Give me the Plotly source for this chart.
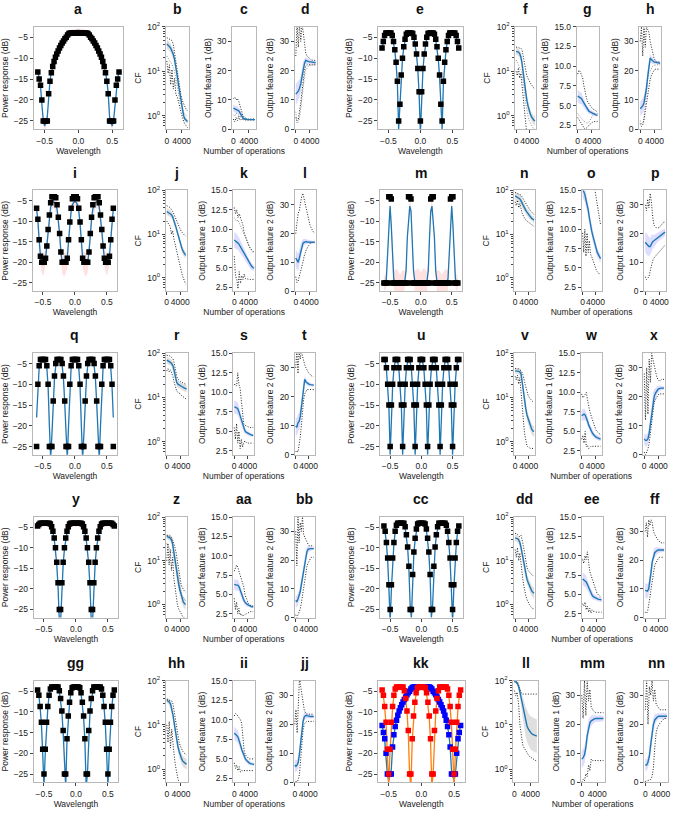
import plotly.graph_objects as go

W, H = 677, 814

# ---------------- wavelength grid and spectral data ----------------
WL = [-0.6, -0.58, -0.56, -0.54, -0.52, -0.5, -0.48, -0.46, -0.44, -0.42, -0.4, -0.38, -0.36, -0.34, -0.32,
      -0.3, -0.28, -0.26, -0.24, -0.22, -0.2, -0.18, -0.16, -0.14, -0.12, -0.1, -0.08, -0.06, -0.04, -0.02,
      0.0, 0.02, 0.04, 0.06, 0.08, 0.1, 0.12, 0.14, 0.16, 0.18, 0.2, 0.22, 0.24, 0.26, 0.28, 0.3, 0.32,
      0.34, 0.36, 0.38, 0.4, 0.42, 0.44, 0.46, 0.48, 0.5, 0.52, 0.54, 0.56, 0.58, 0.6]

T_A = [-13.3, -15.0, -16.5, -20, -25, -25, -25, -25, -18.5, -15.5, -13.5, -12.0, -10.8, -9.8, -9.0, -8.3, -7.6, -7.0, -6.4, -5.9, -5.4, -5.0, -4.5, -4.1, -4, -4, -4, -4, -4, -4, -4,
       -4, -4, -4, -4, -4, -4, -4.1, -4.5, -5.0, -5.4, -5.9, -6.4, -7.0, -7.6, -8.3, -9.0, -9.8, -10.8, -12.0, -13.5, -15.5, -18.5, -25, -25, -25, -25, -20, -16.5, -15.0, -13.3]
R_A = [-13.1, -14.8, -16.6, -21, -24.8, -26.2, -25.5, -24, -18.3, -15.3, -13.4, -11.9, -10.7, -9.7, -8.9, -8.2, -7.5, -6.9, -6.3, -5.8, -5.3, -4.9, -4.5, -4.1, -3.9, -3.7, -3.6, -3.5, -3.4, -3.4, -3.4,
       -3.4, -3.4, -3.5, -3.6, -3.7, -3.9, -4.1, -4.5, -4.9, -5.3, -5.8, -6.3, -6.9, -7.5, -8.2, -8.9, -9.7, -10.7, -11.9, -13.4, -15.3, -18.3, -24, -25.5, -26.2, -24.8, -21, -16.6, -14.8, -13.1]
S_A = [0.5, 0.5, 0.6, 0.8, 1, 1.2, 1, 0.8, 0.6, 0.5, 0.4, 0.4, 0.4, 0.4, 0.4, 0.4, 0.4, 0.4, 0.4, 0.4, 0.4, 0.4, 0.4, 0.5, 0.5, 0.5, 0.5, 0.5, 0.5, 0.5, 0.5,
       0.5, 0.5, 0.5, 0.5, 0.5, 0.5, 0.5, 0.4, 0.4, 0.4, 0.4, 0.4, 0.4, 0.4, 0.4, 0.4, 0.4, 0.4, 0.4, 0.4, 0.5, 0.6, 0.8, 1, 1.2, 1, 0.8, 0.6, 0.5, 0.5]

T_E = [-7.6, -6.0, -4.6, -4, -4, -4, -4, -4, -4.6, -6.0, -8.0, -11.0, -15.5, -25, -21, -14, -10, -7.3, -5.5, -4.3, -4, -4, -4, -4, -4.1, -5.0, -6.6, -9.0, -12.5, -18, -25,
       -18, -12.5, -9.0, -6.6, -5.0, -4.1, -4, -4, -4, -4, -4.3, -5.5, -7.3, -10, -14, -21, -25, -15.5, -11.0, -8.0, -6.0, -4.6, -4, -4, -4, -4, -4, -4.6, -6.0, -7.6]
R_E = [-7.8, -6.2, -4.8, -4.2, -4.1, -4.1, -4.1, -4.2, -4.8, -6.2, -8.2, -11.3, -16, -27, -21.5, -14.3, -10.2, -7.5, -5.7, -4.5, -4.2, -4.1, -4.1, -4.2, -4.3, -5.2, -6.8, -9.2, -12.8, -18.5, -28,
       -18.5, -12.8, -9.2, -6.8, -5.2, -4.3, -4.2, -4.1, -4.1, -4.2, -4.5, -5.7, -7.5, -10.2, -14.3, -21.5, -27, -16, -11.3, -8.2, -6.2, -4.8, -4.2, -4.1, -4.1, -4.1, -4.2, -4.8, -6.2, -7.8]
S_E = [0.6, 0.6, 0.6, 0.6, 0.6, 0.6, 0.6, 0.6, 0.6, 0.7, 0.8, 1, 1.2, 1.5, 1.2, 1, 0.8, 0.7, 0.6, 0.6, 0.6, 0.6, 0.6, 0.6, 0.6, 0.7, 0.8, 1, 1.2, 1.4, 1.5,
       1.4, 1.2, 1, 0.8, 0.7, 0.6, 0.6, 0.6, 0.6, 0.6, 0.6, 0.6, 0.7, 0.8, 1, 1.2, 1.5, 1.2, 1, 0.8, 0.7, 0.6, 0.6, 0.6, 0.6, 0.6, 0.6, 0.6, 0.6, 0.6]

T_I = [-6.8, -9.5, -14.5, -18.5, -20, -20, -20, -19, -16, -12, -8.5, -5.5, -4, -4, -4, -4.3, -6, -9, -13, -17.5, -20, -20, -20, -20, -19, -14.5, -10.2, -6.8, -4.5, -4, -4,
       -4, -4.5, -6.8, -10.2, -14.5, -19, -20, -20, -20, -20, -17.5, -13, -9, -6, -4.3, -4, -4, -4, -5.5, -8.5, -12, -16, -19, -20, -20, -20, -18.5, -14.5, -9.5, -6.8]
R_I = [-7, -9.8, -14.5, -18.5, -20, -20.5, -20, -19, -16, -12.3, -9, -6.5, -5.6, -5.3, -5.4, -5.9, -7, -9.5, -13, -17.5, -20, -20.5, -20.5, -20, -19, -14.8, -10.5, -7.5, -6, -5.4, -5.2,
       -5.4, -6, -7.5, -10.5, -14.8, -19, -20, -20.5, -20.5, -20, -17.5, -13, -9.5, -7, -5.9, -5.4, -5.3, -5.6, -6.5, -9, -12.3, -16, -19, -20, -20.5, -20, -18.5, -14.5, -9.8, -7]
S_I = [1.5, 1.8, 2, 2.2, 2.5, 2.8, 2.5, 2.2, 2, 2, 2, 1.8, 1.5, 1.5, 1.5, 1.8, 2, 2, 2, 2.2, 2.5, 2.8, 2.8, 2.5, 2.2, 2, 2, 1.8, 1.5, 1.5, 1.5,
       1.5, 1.5, 1.8, 2, 2, 2.2, 2.5, 2.8, 2.8, 2.5, 2.2, 2, 2, 2, 1.8, 1.5, 1.5, 1.5, 1.8, 2, 2, 2, 2.2, 2.5, 2.8, 2.5, 2.2, 2, 1.8, 1.5]

T_M = [-25, -25, -25, -25, -4, -4, -4.6, -25, -25, -25, -25, -25, -25, -25, -25, -25, -25, -25, -25, -25, -4, -4, -4.6, -25, -25, -25, -25, -25, -25, -25, -25,
       -25, -25, -25, -25, -25, -25, -25, -4.6, -4, -4, -25, -25, -25, -25, -25, -25, -25, -25, -25, -25, -25, -25, -25, -4.6, -4, -4, -25, -25, -25, -25]
R_M = [-25, -25, -24, -18, -11, -6.3, -11, -18, -24, -25, -25, -24.8, -25, -25, -25, -25, -25, -24.5, -22, -14, -9.5, -6.3, -7.5, -14, -22, -24.5, -25, -25, -25, -25, -25,
       -25, -25, -25, -25, -24.5, -22, -14, -7.5, -6.3, -9.5, -14, -22, -24.5, -25, -25, -25, -25, -25, -24.8, -25, -25, -24, -18, -11, -6.3, -11, -18, -24, -25, -25]
S_M = [1.5, 2, 2, 2, 1.5, 1.5, 1.5, 2, 2.5, 3, 3.5, 3, 2.5, 2, 2.5, 3, 3, 2.5, 2, 1.5, 1.5, 1.5, 1.5, 1.5, 2, 2.5, 3, 3.5, 3.5, 3, 2.5,
       3, 3.5, 3.5, 3, 2.5, 2, 1.5, 1.5, 1.5, 1.5, 1.5, 2, 2.5, 3, 3, 2.5, 2, 2.5, 3, 3.5, 3, 2.5, 2, 1.5, 1.5, 1.5, 2, 2, 2, 1.5]

T_Q = [-25, -10, -5.5, -4, -4, -4, -4, -4, -5.5, -10, -25, -25, -25, -14, -8, -5, -4, -4, -4, -4, -5, -8, -14, -25, -25, -25, -10, -5.5, -4, -4, -4,
       -4, -4, -5.5, -10, -25, -25, -25, -14, -8, -5, -4, -4, -4, -4, -5, -8, -14, -25, -25, -25, -10, -5.5, -4, -4, -4, -4, -4, -5.5, -10, -25]
R_Q = [-18, -10.5, -6, -4.8, -4.5, -4.4, -4.5, -4.8, -6, -10.5, -20, -28, -22, -14.5, -8.5, -5.5, -4.7, -4.4, -4.4, -4.7, -5.5, -8.5, -14.5, -22, -28, -20, -10.5, -6, -4.8, -4.5, -4.4,
       -4.5, -4.8, -6, -10.5, -20, -28, -22, -14.5, -8.5, -5.5, -4.7, -4.4, -4.4, -4.7, -5.5, -8.5, -14.5, -22, -28, -20, -10.5, -6, -4.8, -4.5, -4.4, -4.5, -4.8, -6, -10.5, -18]
S_Q = [1.5, 1, 0.8, 0.5, 0.5, 0.5, 0.5, 0.5, 0.8, 1, 1.2, 1.5, 1.5, 1, 0.8, 0.6, 0.5, 0.5, 0.5, 0.5, 0.6, 0.8, 1, 1.5, 1.5, 1.2, 1, 0.8, 0.5, 0.5, 0.5,
       0.5, 0.5, 0.8, 1, 1.2, 1.5, 1.5, 1, 0.8, 0.6, 0.5, 0.5, 0.5, 0.5, 0.6, 0.8, 1, 1.5, 1.5, 1.2, 1, 0.8, 0.5, 0.5, 0.5, 0.5, 0.5, 0.8, 1, 1.5]

T_U = [-4, -4, -6, -10, -15, -25, -15, -10, -6, -4, -4, -4, -6, -10, -15, -25, -15, -10, -6, -4, -4, -4, -6, -10, -15, -25, -15, -10, -6, -4, -4,
       -4, -6, -10, -15, -25, -15, -10, -6, -4, -4, -4, -6, -10, -15, -25, -15, -10, -6, -4, -4, -4, -6, -10, -15, -25, -15, -10, -6, -4, -4]
R_U = [-4.3, -4.5, -6.3, -10.3, -15.5, -27, -15.5, -10.3, -6.3, -4.5, -4.3, -4.5, -6.3, -10.3, -15.5, -27, -15.5, -10.3, -6.3, -4.5, -4.3, -4.5, -6.3, -10.3, -15.5, -27, -15.5, -10.3, -6.3, -4.5, -4.3,
       -4.5, -6.3, -10.3, -15.5, -27, -15.5, -10.3, -6.3, -4.5, -4.3, -4.5, -6.3, -10.3, -15.5, -27, -15.5, -10.3, -6.3, -4.5, -4.3, -4.5, -6.3, -10.3, -15.5, -27, -15.5, -10.3, -6.3, -4.5, -4.3]
S_U = [0.6, 0.6, 0.7, 0.8, 1, 1.2, 1, 0.8, 0.7, 0.6, 0.6, 0.6, 0.7, 0.8, 1, 1.2, 1, 0.8, 0.7, 0.6, 0.6, 0.6, 0.7, 0.8, 1, 1.2, 1, 0.8, 0.7, 0.6, 0.6,
       0.6, 0.7, 0.8, 1, 1.2, 1, 0.8, 0.7, 0.6, 0.6, 0.6, 0.7, 0.8, 1, 1.2, 1, 0.8, 0.7, 0.6, 0.6, 0.6, 0.7, 0.8, 1, 1.2, 1, 0.8, 0.7, 0.6, 0.6]

T_Y = [-4.7, -4.3, -4, -4, -4, -4, -4, -4, -4, -4, -4.2, -4.9, -6, -7.6, -10, -13.5, -18.5, -25, -25, -18.5, -13.5, -10, -7.6, -6, -4.9, -4.2, -4, -4, -4, -4, -4,
       -4, -4, -4, -4, -4.2, -4.9, -6, -7.6, -10, -13.5, -18.5, -25, -25, -18.5, -13.5, -10, -7.6, -6, -4.9, -4.2, -4, -4, -4, -4, -4, -4, -4, -4, -4.3, -4.7]
R_Y = [-4.8, -4.4, -4.2, -4.1, -4.1, -4.1, -4.1, -4.1, -4.1, -4.2, -4.4, -5.1, -6.2, -7.8, -10.3, -14, -19.5, -28, -28, -19.5, -14, -10.3, -7.8, -6.2, -5.1, -4.4, -4.2, -4.1, -4.1, -4.1, -4.1,
       -4.1, -4.1, -4.1, -4.2, -4.4, -5.1, -6.2, -7.8, -10.3, -14, -19.5, -28, -28, -19.5, -14, -10.3, -7.8, -6.2, -5.1, -4.4, -4.2, -4.1, -4.1, -4.1, -4.1, -4.1, -4.1, -4.2, -4.4, -4.8]
S_Y = [0.7, 0.7, 0.7, 0.7, 0.7, 0.7, 0.7, 0.7, 0.7, 0.7, 0.7, 0.8, 0.9, 1, 1.1, 1.2, 1.4, 1.5, 1.5, 1.4, 1.2, 1.1, 1, 0.9, 0.8, 0.7, 0.7, 0.7, 0.7, 0.7, 0.7,
       0.7, 0.7, 0.7, 0.7, 0.7, 0.8, 0.9, 1, 1.1, 1.2, 1.4, 1.5, 1.5, 1.4, 1.2, 1.1, 1, 0.9, 0.8, 0.7, 0.7, 0.7, 0.7, 0.7, 0.7, 0.7, 0.7, 0.7, 0.7, 0.7]

T_CC = [-4.7, -6, -8.7, -12.5, -19, -25, -19, -12.5, -8.7, -6, -4.5, -4, -4, -4, -4, -4, -4, -4.9, -6.8, -9.8, -14.5, -25, -25, -16.5, -11, -7.7, -5.4, -4.2, -4, -4, -4,
        -4, -4, -4.2, -5.4, -7.7, -11, -16.5, -25, -25, -14.5, -9.8, -6.8, -4.9, -4, -4, -4, -4, -4, -4, -4.5, -6, -8.7, -12.5, -19, -25, -19, -12.5, -8.7, -6, -4.7]
R_CC = [-4.9, -6.2, -9, -13, -20, -28, -20, -13, -9, -6.2, -4.7, -4.2, -4.1, -4.1, -4.1, -4.1, -4.2, -5.1, -7, -10, -15, -24, -27, -17, -11.3, -8, -5.6, -4.4, -4.2, -4.1, -4.1,
        -4.1, -4.2, -4.4, -5.6, -8, -11.3, -17, -27, -24, -15, -10, -7, -5.1, -4.2, -4.1, -4.1, -4.1, -4.1, -4.2, -4.7, -6.2, -9, -13, -20, -28, -20, -13, -9, -6.2, -4.9]
S_CC = [0.7, 0.8, 1, 1.2, 1.4, 1.5, 1.4, 1.2, 1, 0.8, 0.7, 0.6, 0.6, 0.6, 0.6, 0.6, 0.6, 0.7, 0.8, 1, 1.2, 1.5, 1.5, 1.2, 1, 0.8, 0.7, 0.6, 0.6, 0.6, 0.6,
        0.6, 0.6, 0.6, 0.7, 0.8, 1, 1.2, 1.5, 1.5, 1.2, 1, 0.8, 0.7, 0.6, 0.6, 0.6, 0.6, 0.6, 0.6, 0.7, 0.8, 1, 1.2, 1.4, 1.5, 1.4, 1.2, 1, 0.8, 0.7]

T_GG = [-4.7, -6, -8.7, -12.5, -19, -25, -19, -12.5, -8.7, -6, -4.5, -4, -4, -4, -4, -4, -4, -4.9, -6.8, -9.8, -14.5, -25, -25, -16.5, -11, -7.7, -5.4, -4.2, -4, -4, -4,
        -4, -4, -4.2, -5.4, -7.7, -11, -16.5, -25, -25, -14.5, -9.8, -6.8, -4.9, -4, -4, -4, -4, -4, -4, -4.5, -6, -8.7, -12.5, -19, -25, -19, -12.5, -8.7, -6, -4.7]
R_GG = [-4.8, -6.1, -9, -13, -20, -28, -20, -13, -9, -6.1, -4.6, -4.2, -4.1, -4.1, -4.1, -4.1, -4.2, -5.1, -7, -10, -15, -25, -28, -17, -11.3, -8, -5.6, -4.4, -4.2, -4.1, -4.1,
        -4.1, -4.2, -4.4, -5.6, -8, -11.3, -17, -28, -25, -15, -10, -7, -5.1, -4.2, -4.1, -4.1, -4.1, -4.1, -4.2, -4.6, -6.1, -9, -13, -20, -28, -20, -13, -9, -6.1, -4.8]
S_GG = [0.6, 0.7, 0.9, 1.1, 1.3, 1.4, 1.3, 1.1, 0.9, 0.7, 0.6, 0.5, 0.5, 0.5, 0.5, 0.5, 0.5, 0.6, 0.7, 0.9, 1.1, 1.4, 1.4, 1.1, 0.9, 0.7, 0.6, 0.5, 0.5, 0.5, 0.5,
        0.5, 0.5, 0.5, 0.6, 0.7, 0.9, 1.1, 1.4, 1.4, 1.1, 0.9, 0.7, 0.6, 0.5, 0.5, 0.5, 0.5, 0.5, 0.5, 0.6, 0.7, 0.9, 1.1, 1.3, 1.4, 1.3, 1.1, 0.9, 0.7, 0.6]

# kk: two simultaneous targets (blue and red)
T_KB = [-13.3, -15.0, -16.5, -20, -25, -25, -25, -25, -18.5, -15.5, -13.5, -12.0, -10.8, -9.8, -9.0, -8.3, -7.6, -7.0, -6.4, -5.9, -5.4, -5.0, -4.5, -4.1, -4, -4, -4, -4, -4, -4, -4,
        -4, -4, -4, -4, -4, -4, -4.1, -4.5, -5.0, -5.4, -5.9, -6.4, -7.0, -7.6, -8.3, -9.0, -9.8, -10.8, -12.0, -13.5, -15.5, -18.5, -25, -25, -25, -25, -20, -16.5, -15.0, -13.3]
R_KB = [-13.2, -15.0, -16.8, -21, -25, -26.5, -25.5, -24, -18.5, -15.4, -13.5, -12.0, -10.8, -9.8, -9.0, -8.3, -7.6, -7.0, -6.4, -5.9, -5.4, -5.0, -4.6, -4.3, -4.1, -4.0, -3.9, -3.8, -3.8, -3.8, -3.8,
        -3.8, -3.8, -3.8, -3.9, -4.0, -4.1, -4.3, -4.6, -5.0, -5.4, -5.9, -6.4, -7.0, -7.6, -8.3, -9.0, -9.8, -10.8, -12.0, -13.5, -15.4, -18.5, -24, -25.5, -26.5, -25, -21, -16.8, -15.0, -13.2]
T_KR = [-4.7, -6, -8.7, -12.5, -19, -25, -19, -12.5, -8.7, -6, -4.5, -4, -4, -4, -4, -4, -4, -4.9, -6.8, -9.8, -14.5, -25, -25, -16.5, -11, -7.7, -5.4, -4.2, -4, -4, -4,
        -4, -4, -4.2, -5.4, -7.7, -11, -16.5, -25, -25, -14.5, -9.8, -6.8, -4.9, -4, -4, -4, -4, -4, -4, -4.5, -6, -8.7, -12.5, -19, -25, -19, -12.5, -8.7, -6, -4.7]
R_KR = [-5.0, -6.3, -9, -13, -20, -28, -20, -13, -9, -6.3, -4.9, -4.4, -4.3, -4.3, -4.3, -4.3, -4.4, -5.2, -7, -10, -15, -25, -28, -17, -11.3, -8, -5.7, -4.6, -4.4, -4.3, -4.3,
        -4.3, -4.4, -4.6, -5.7, -8, -11.3, -17, -28, -25, -15, -10, -7, -5.2, -4.4, -4.3, -4.3, -4.3, -4.3, -4.4, -4.9, -6.3, -9, -13, -20, -28, -20, -13, -9, -6.3, -5.0]

# ---------------- training curves (number of operations) ----------------
OPS = [0, 350, 700, 1050, 1400, 1750, 2100, 2450, 2800, 3150, 3500, 3850, 4200, 4550, 4900, 5250, 5600]

B_MEAN = [41, 39, 36, 33, 29, 24, 18, 13, 8, 5, 3.2, 2, 1.25, 1.0, 0.85, 0.8, 0.75]
B_SD = [0.1, 0.1, 0.1, 0.1, 0.1, 0.1, 0.1, 0.1, 0.1, 0.1, 0.1, 0.09, 0.08, 0.07, 0.06, 0.06, 0.06]
B_D1 = [57, 55, 52, 50, 49, 40, 25, 15, 9, 6, 4, 2.8, 2.2, 1.8, 1.6, 1.4, 1.3]
B_D2 = [17, 9, 14, 5, 11, 4, 7, 3, 2.7, 2.2, 1.6, 1.2, 0.9, 0.75, 0.65, 0.6, 0.55]
B_D3 = [22, 20, 18, 16, 14, 12, 10, 7, 4.5, 3, 2.2, 1.7, 1.4, 1.2, 1.1, 1.0, 1.0]

C_MEAN = [7.2, 7.0, 6.8, 6.6, 6.3, 5.5, 4.5, 3.9, 3.6, 3.4, 3.35, 3.3, 3.3, 3.3, 3.3, 3.3, 3.3]
C_SD = [1.3, 1.3, 1.2, 1.2, 1.1, 1, 0.8, 0.6, 0.4, 0.3, 0.3, 0.2, 0.2, 0.2, 0.2, 0.2, 0.2]
C_D1 = [10.5, 11, 10, 10.5, 9.5, 8, 6, 4.8, 4.2, 3.8, 3.6, 3.5, 3.5, 3.5, 3.5, 3.5, 3.5]
C_D2 = [3.5, 2.5, 4, 3, 4.5, 3, 3.5, 3.2, 3.2, 3.2, 3.2, 3.2, 3.2, 3.2, 3.2, 3.2, 3.2]
C_D3 = [5, 4.5, 5.5, 5, 4.8, 4.4, 4, 3.6, 3.4, 3.3, 3.3, 3.3, 3.3, 3.3, 3.3, 3.3, 3.3]

D_MEAN = [12, 12.5, 13, 14, 15.5, 18, 21, 22.5, 23.5, 23.3, 23.2, 23, 23, 22.9, 22.8, 22.7, 22.7]
D_SD = [3.5, 3.5, 3.2, 3, 3, 2.8, 2.2, 1.5, 1.2, 1, 0.8, 0.7, 0.6, 0.6, 0.5, 0.5, 0.5]
D_D1 = [25, 36, 28, 36, 30, 36, 33, 28, 26, 25, 24.5, 24, 23.8, 23.6, 23.5, 23.5, 23.5]
D_D2 = [4, 3, 3.5, 6, 9, 13, 17, 20, 21.5, 22, 22, 22, 22, 22, 22, 22, 22]
D_D3 = [6, 2, 2.5, 4, 7, 11, 15, 18, 20, 21, 21.5, 21.8, 22, 22, 22, 22, 22]

F_MEAN = [28, 28, 27, 25, 21, 15, 9, 5.5, 3.3, 2.3, 1.7, 1.3, 1.1, 0.95, 0.85, 0.8, 0.78]
F_SD = [0.08, 0.08, 0.08, 0.08, 0.1, 0.12, 0.12, 0.12, 0.12, 0.12, 0.12, 0.1, 0.1, 0.1, 0.1, 0.1, 0.1]
F_D1 = [35, 35, 34, 33, 33, 30, 22, 14, 10, 8, 7, 6, 5.5, 5, 4.5, 4.2, 4]
F_D2 = [10, 8, 12, 7, 9, 5, 2.5, 1.2, 0.6, 0.4, 0.35, 0.3, 0.3, 0.3, 0.3, 0.3, 0.3]
F_D3 = [18, 15, 14, 12, 11, 9, 6, 3.5, 2, 1.3, 1, 0.8, 0.7, 0.6, 0.55, 0.5, 0.5]

G_MEAN = [6.2, 6.1, 6.0, 5.9, 5.6, 5.3, 5.0, 4.7, 4.5, 4.3, 4.2, 4.1, 4.0, 3.9, 3.85, 3.8, 3.8]
G_SD = [0.8, 0.8, 0.8, 0.7, 0.6, 0.5, 0.5, 0.4, 0.4, 0.3, 0.3, 0.3, 0.3, 0.2, 0.2, 0.2, 0.2]
G_D1 = [9, 9.5, 9.3, 9, 8.5, 7.5, 6.5, 6, 5.5, 5.2, 5, 4.8, 4.6, 4.5, 4.4, 4.3, 4.2]
G_D2 = [3.5, 3.2, 3, 2.7, 2.4, 2.2, 2, 2.1, 2.3, 2.5, 2.7, 2.8, 2.9, 3, 3, 3, 3]
G_D3 = [4, 3.8, 3.5, 3.3, 3.1, 3, 2.9, 2.8, 2.8, 2.9, 3.2, 3.5, 3.8, 4, 4, 4, 4]

H_MEAN = [7, 7.5, 8, 9, 11, 14, 18, 22, 24.3, 23.8, 23.3, 23, 22.9, 22.8, 22.7, 22.6, 22.5]
H_SD = [2.5, 2.5, 2.5, 2.5, 2.5, 2.5, 2.5, 2, 1.5, 1.2, 1, 0.8, 0.7, 0.6, 0.5, 0.5, 0.5]
H_D1 = [30, 35, 25, 35, 28, 35, 34, 33, 30, 28, 26, 24.5, 23.5, 23, 23, 23, 23]
H_D2 = [2, 1, 1.5, 3, 6, 9, 12, 15, 17, 18.5, 19.5, 20, 20.5, 20.5, 20.5, 20.5, 20.5]
H_D3 = [3, 2, 2, 4, 8, 13, 17, 19, 20, 21, 21.5, 21.8, 22, 22, 22, 22, 22]

J_MEAN = [33, 32, 31, 30, 28, 25, 21, 17, 14, 11, 8.5, 6.8, 5.5, 4.6, 4, 3.6, 3.3]
J_SD = [0.08, 0.08, 0.08, 0.08, 0.08, 0.08, 0.08, 0.08, 0.08, 0.08, 0.08, 0.08, 0.08, 0.08, 0.08, 0.08, 0.08]
J_D1 = [45, 44, 42, 40, 37, 33, 29, 25, 21, 18, 15, 13, 12, 11, 10, 9.5, 9]
J_D2 = [20, 18, 17, 15, 10, 12, 8, 6, 4.5, 3.3, 2.5, 1.9, 1.5, 1.2, 1, 0.85, 0.72]

K_MEAN = [8.6, 8.5, 8.4, 8.2, 8, 7.7, 7.4, 7.1, 6.8, 6.5, 6.2, 5.9, 5.6, 5.4, 5.2, 5.05, 4.95]
K_SD = [1, 1, 1, 0.9, 0.9, 0.8, 0.8, 0.7, 0.7, 0.6, 0.6, 0.5, 0.5, 0.5, 0.4, 0.4, 0.4]
K_D1 = [12.8, 12, 12.5, 11.5, 12, 11.5, 11, 10.5, 9.5, 9, 8.8, 8, 7.8, 7.5, 7.3, 7.1, 7]
K_D2 = [6.5, 4, 3.5, 2.3, 4.5, 3, 4, 3.5, 4.2, 3.6, 3.6, 3.5, 3.5, 3.5, 3.5, 3.5, 3.5]
K_D3 = [11.5, 11.2, 11, 11.2, 10.8, 10.5, 10.2, 9.8, 9.3, 8.8, 8.5, 8.2, 7.8, 7.5, 7.2, 7, 6.9]

L_MEAN = [11.5, 10.5, 10, 11.5, 13.5, 15.5, 16.5, 17, 17.2, 17.2, 17.1, 17, 17, 17, 17, 17, 17]
L_SD = [3, 3, 3, 3, 2.5, 2, 1.5, 1.2, 1, 0.8, 0.8, 0.6, 0.6, 0.5, 0.5, 0.5, 0.5]
L_D1 = [20, 24, 27, 28, 31, 33, 34, 32, 30, 28, 26, 24.5, 23, 22, 21, 20.5, 20]
L_D2 = [5, 3, 3.5, 5, 6.5, 8, 10, 12, 13.5, 14.5, 15.2, 16, 16.5, 16.8, 17, 17, 17]

N_MEAN = [75, 72, 70, 68, 64, 58, 50, 44, 39, 35, 32, 29, 27, 25, 23, 22, 21]
N_SD = [0.1, 0.1, 0.1, 0.1, 0.1, 0.1, 0.1, 0.1, 0.1, 0.09, 0.08, 0.08, 0.08, 0.07, 0.07, 0.07, 0.07]
N_D1 = [90, 88, 86, 85, 82, 78, 70, 62, 55, 50, 45, 40, 37, 34, 32, 30, 28]
N_D2 = [55, 45, 60, 40, 50, 35, 30, 26, 23, 21, 20, 19, 18, 17, 16, 15.5, 15]

O_MEAN = [15.2, 14.8, 14.5, 13.8, 13.2, 12.5, 11.5, 10.5, 9.8, 9.2, 8.6, 8, 7.5, 7, 6.7, 6.4, 6.2]
O_SD = [1, 1, 1, 1, 0.9, 0.9, 0.9, 0.8, 0.8, 0.8, 0.7, 0.7, 0.6, 0.6, 0.6, 0.5, 0.5]
O_D1 = [16, 16, 16, 16, 16, 16, 16, 16, 16, 16, 16, 15, 14, 13, 12, 11, 10.5]
O_D2 = [9.5, 7, 10, 6.5, 9.5, 7, 8.5, 6.8, 6.5, 6, 5.5, 5, 4.8, 4.5, 4.3, 4.2, 4.2]

P_MEAN = [17, 16.5, 15.8, 15.5, 15.5, 16.5, 17.2, 17.5, 17.8, 18.3, 18.7, 19, 19.3, 19.6, 19.9, 20.2, 20.5]
P_SD = [3.5, 3.5, 3.5, 3.5, 3, 3, 2.5, 2, 2, 1.8, 1.6, 1.5, 1.5, 1.4, 1.4, 1.3, 1.3]
P_D1 = [30, 28, 32, 29, 34, 31, 26, 23, 22.5, 22, 22, 22, 22.5, 23, 23.5, 24, 24]
P_D2 = [5, 4, 4.5, 5, 7, 9, 10.5, 11.5, 12, 12.5, 13, 13.5, 14, 14.5, 15, 15.5, 16]

R_MEAN = [70, 68, 65, 62, 58, 52, 40, 28, 22, 20, 19, 18, 17.5, 17, 16.5, 16, 15.5]
R_SD = [0.08, 0.08, 0.08, 0.08, 0.08, 0.08, 0.08, 0.08, 0.08, 0.08, 0.08, 0.08, 0.08, 0.08, 0.08, 0.08, 0.08]
R_D1 = [90, 90, 88, 85, 80, 75, 60, 40, 30, 26, 24, 23, 22, 21, 20.5, 20, 20]
R_D2 = [40, 45, 38, 42, 35, 30, 22, 16, 14, 13, 12.5, 12, 11, 10.5, 10, 9.5, 9]

S_MEAN = [8.1, 8.1, 8, 7.9, 7.5, 7, 6.4, 5.8, 5.4, 5.1, 4.9, 4.8, 4.7, 4.6, 4.55, 4.5, 4.5]
S_SD = [0.8, 0.8, 0.8, 0.8, 0.7, 0.7, 0.6, 0.5, 0.4, 0.4, 0.3, 0.3, 0.3, 0.3, 0.2, 0.2, 0.2]
S_D1 = [11, 11, 10.8, 12.5, 11, 10.5, 9, 7, 6, 5.8, 5.7, 5.6, 5.5, 5.5, 5.5, 5.5, 5.5]
S_D2 = [5.5, 4, 6, 3.5, 5, 2.8, 4, 3, 3.5, 3.8, 3.6, 3.5, 3.5, 3.5, 3.5, 3.5, 3.5]

T_MEAN = [10, 9.5, 11, 11.5, 13, 16, 20, 24, 26, 25.2, 24.8, 24.5, 24.3, 24.2, 24.1, 24, 24]
T_SD = [3, 3, 3, 3, 3, 2.5, 2, 1.5, 1.2, 1, 0.8, 0.8, 0.7, 0.6, 0.6, 0.5, 0.5]
T_D1 = [30, 36, 28, 36, 33, 36, 34, 32, 31, 30, 29, 28.5, 28, 27.5, 27.2, 27, 27]
T_D2 = [1, 1.5, 1, 3, 6, 10, 15, 19, 21, 22, 22.5, 22.5, 22.5, 22.5, 22.5, 22.5, 22.5]

V_MEAN = [40, 40, 40, 39, 38, 34, 22, 13, 8, 5.5, 4, 3.2, 2.6, 2.2, 1.9, 1.75, 1.7]
V_SD = [0.06, 0.06, 0.06, 0.06, 0.08, 0.1, 0.12, 0.12, 0.12, 0.12, 0.12, 0.12, 0.12, 0.12, 0.12, 0.12, 0.12]
V_D1 = [45, 45, 44, 44, 42, 40, 36, 30, 22, 17, 13, 11, 10, 9, 8.5, 8, 8]
V_D2 = [30, 25, 32, 20, 28, 15, 8, 3, 1.5, 1, 0.8, 0.75, 0.72, 0.7, 0.7, 0.7, 0.7]

W_MEAN = [7, 7.1, 7.2, 7.1, 6.8, 6.3, 5.8, 5.4, 5.1, 4.8, 4.6, 4.4, 4.3, 4.2, 4.1, 4.05, 4]
W_SD = [0.7, 0.7, 0.7, 0.7, 0.6, 0.6, 0.6, 0.5, 0.5, 0.4, 0.4, 0.3, 0.3, 0.3, 0.3, 0.3, 0.3]
W_D1 = [9.8, 9.3, 9.5, 9.8, 10, 9, 8, 7.5, 7, 6.5, 6, 5.5, 5.2, 5, 4.8, 4.7, 4.6]
W_D2 = [4, 4.5, 3.5, 5, 3, 3.2, 2.8, 3, 3.1, 3.1, 3.1, 3.1, 3.1, 3.1, 3.1, 3.1, 3.1]

X_MEAN = [5.5, 5, 5, 5.5, 7.5, 11, 15, 18, 20, 21.2, 22, 22.5, 22.8, 23, 23, 23, 23]
X_SD = [2, 2, 2, 2, 2.5, 3, 3, 3, 2.5, 2, 1.5, 1.2, 1, 0.8, 0.7, 0.6, 0.6]
X_D1 = [28, 12, 30, 14, 33, 25, 35, 33, 30, 28, 27, 26, 25.5, 25.5, 26, 26, 26]
X_D2 = [1, 0, 1, 2, 4, 8, 12, 15, 18, 19, 20, 20.5, 21, 21, 21, 21, 21]

Z_MEAN = [36, 35, 34, 33, 30, 24, 16, 10, 6.5, 4.3, 3, 2.2, 1.7, 1.35, 1.15, 1.05, 1]
Z_SD = [0.06, 0.06, 0.06, 0.08, 0.1, 0.12, 0.14, 0.15, 0.15, 0.15, 0.15, 0.14, 0.13, 0.12, 0.12, 0.12, 0.12]
Z_D1 = [38, 38, 37, 36, 34, 30, 25, 20, 15, 10, 6, 4, 3, 2.5, 2.2, 2, 1.9]
Z_D2 = [10, 25, 8, 18, 6, 12, 4, 2.5, 1.5, 1, 0.8, 0.7, 0.6, 0.55, 0.5, 0.5, 0.5]
Z_D3 = [25, 22, 20, 18, 17, 15, 13, 10, 7, 5, 3.5, 2.5, 2, 1.6, 1.4, 1.3, 1.2]

AA_MEAN = [6.3, 6.2, 6.2, 6.2, 6, 5.6, 5.1, 4.6, 4.3, 4, 3.8, 3.7, 3.6, 3.5, 3.45, 3.4, 3.4]
AA_SD = [0.7, 0.7, 0.7, 0.7, 0.6, 0.6, 0.5, 0.5, 0.4, 0.4, 0.3, 0.3, 0.3, 0.3, 0.2, 0.2, 0.2]
AA_D1 = [8, 8.5, 8.8, 8.5, 8, 7.5, 7, 6.5, 6, 5, 4.5, 4, 3.8, 3.6, 3.5, 3.5, 3.5]
AA_D2 = [4.5, 3, 4, 2.5, 3.2, 2.3, 2.5, 2.2, 2.3, 2.4, 2.5, 2.6, 2.7, 2.8, 2.8, 2.8, 2.8]

BB_MEAN = [6, 5.5, 6.5, 7.5, 9, 11.5, 14, 17, 19.5, 21.5, 23, 23.8, 24, 24, 24, 24, 24]
BB_SD = [2, 2, 2, 2, 2.5, 2.5, 2.5, 2.5, 2, 2, 1.5, 1.2, 1, 0.8, 0.7, 0.6, 0.6]
BB_D1 = [30, 18, 35, 26, 33, 30, 35, 29, 28, 27, 26, 25.5, 25, 25, 25, 25, 25]
BB_D2 = [1, 0, 1, 2, 3, 5, 8, 11, 14, 16, 18, 19, 20, 20.5, 21, 21, 21]

DD_MEAN = [33, 33, 32, 30, 26, 20, 14, 9.5, 6.5, 4.8, 3.8, 3.2, 2.7, 2.3, 2.05, 1.9, 1.8]
DD_SD = [0.08, 0.08, 0.08, 0.08, 0.1, 0.12, 0.12, 0.12, 0.12, 0.12, 0.12, 0.12, 0.12, 0.12, 0.12, 0.12, 0.12]
DD_D1 = [42, 42, 40, 38, 35, 38, 30, 22, 15, 10, 7, 6, 5.5, 5, 4.8, 4.6, 4.5]
DD_D2 = [18, 12, 20, 10, 15, 7, 5, 3, 2, 1.6, 1.3, 1.1, 1, 0.9, 0.85, 0.8, 0.8]

EE_MEAN = [7, 6.9, 6.8, 6.6, 6.3, 5.9, 5.5, 5.2, 4.9, 4.7, 4.6, 4.5, 4.45, 4.4, 4.35, 4.3, 4.3]
EE_SD = [0.8, 0.8, 0.8, 0.7, 0.7, 0.6, 0.6, 0.5, 0.5, 0.4, 0.4, 0.3, 0.3, 0.3, 0.3, 0.3, 0.3]
EE_D1 = [9.5, 9, 10, 9.5, 10.5, 9, 8, 7.5, 7, 6.5, 6, 5.5, 5.2, 5, 4.8, 4.7, 4.6]
EE_D2 = [3.8, 3.5, 4, 3, 3.5, 2.7, 3.2, 2.6, 3, 2.8, 2.8, 2.7, 2.7, 2.7, 2.7, 2.7, 2.7]

FF_MEAN = [9.5, 9.2, 9.2, 10, 12.5, 16, 19.5, 21.5, 22.5, 23, 23.3, 23.5, 23.5, 23.5, 23.5, 23.5, 23.5]
FF_SD = [2.5, 2.5, 2.5, 2.5, 3, 3, 2.5, 2, 1.8, 1.5, 1.3, 1, 1, 0.8, 0.8, 0.7, 0.7]
FF_D1 = [30, 33, 28, 34, 32, 34, 33, 30, 29, 28, 27.5, 27, 26.5, 26, 26, 26, 26]
FF_D2 = [2, 1.5, 2, 4, 7, 10, 13, 16, 18, 19, 20, 20.5, 21, 21, 21, 21, 21]

HH_MEAN = [36, 35, 33, 30, 24, 17, 11, 7, 4.5, 3.2, 2.5, 2, 1.7, 1.5, 1.4, 1.35, 1.3]
HH_SD = [0.06, 0.06, 0.08, 0.1, 0.12, 0.12, 0.12, 0.12, 0.12, 0.12, 0.12, 0.12, 0.12, 0.12, 0.12, 0.12, 0.12]
HH_D1 = [38, 38, 36, 35, 35, 30, 20, 12, 8, 5.5, 4, 3.3, 2.8, 2.5, 2.3, 2.2, 2.1]
HH_D2 = [10, 4, 12, 3, 8, 3, 2, 1.2, 0.8, 0.6, 0.5, 0.45, 0.4, 0.4, 0.4, 0.4, 0.4]

II_MEAN = [8.3, 8.2, 8, 7.8, 7.4, 6.8, 6.2, 5.7, 5.3, 5, 4.8, 4.6, 4.5, 4.4, 4.35, 4.3, 4.3]
II_SD = [0.8, 0.8, 0.8, 0.8, 0.7, 0.6, 0.5, 0.5, 0.4, 0.4, 0.3, 0.3, 0.3, 0.3, 0.2, 0.2, 0.2]
II_D1 = [10.5, 10.8, 10.7, 10.5, 10.2, 10, 9.5, 7.5, 6, 5.5, 5.3, 5.1, 5, 5, 5, 5, 5]
II_D2 = [4.5, 3.8, 4.2, 3.5, 4, 3.3, 3.5, 3.5, 3.5, 3.5, 3.5, 3.5, 3.5, 3.5, 3.5, 3.5, 3.5]

JJ_MEAN = [6, 5.5, 6, 7, 10, 14, 18, 21, 22.5, 23, 23, 22.8, 22.8, 22.7, 22.7, 22.7, 22.7]
JJ_SD = [2, 2, 2, 2, 2.5, 2.5, 2.5, 2, 1.5, 1.2, 1, 0.8, 0.7, 0.6, 0.6, 0.5, 0.5]
JJ_D1 = [20, 25, 17, 28, 36, 33, 30, 27, 25, 24, 23.5, 23.5, 23.5, 23.5, 23.5, 23.5, 23.5]
JJ_D2 = [0, 0.5, 0, 1, 3, 8, 14, 18, 20, 20.5, 21, 21, 21, 21, 21, 21, 21]

LL_MEAN = [96, 94, 88, 75, 55, 38, 25, 17, 12, 9.5, 8, 7, 6.5, 6.1, 5.9, 5.7, 5.6]
LL_SD = [0.03, 0.03, 0.05, 0.08, 0.12, 0.18, 0.25, 0.3, 0.33, 0.35, 0.36, 0.37, 0.38, 0.38, 0.38, 0.38, 0.38]
LL_D1 = [100, 95, 100, 80, 60, 52, 50, 50, 50, 50, 50, 50, 50, 50, 50, 50, 50]
LL_D2 = [60, 45, 55, 30, 10, 5, 3.5, 3, 2.6, 2.3, 2.1, 1.9, 1.8, 1.7, 1.6, 1.55, 1.5]

MM_MEAN = [8, 8.5, 9.5, 12, 16, 19, 20.5, 21.2, 21.6, 21.8, 22, 22, 22, 22, 22, 22, 22]
MM_SD = [3, 3, 3, 3, 3, 2.5, 2, 1.8, 1.5, 1.3, 1.2, 1, 1, 1, 1, 1, 1]
MM_D1 = [30, 22, 35, 23, 35, 28, 32, 26, 25, 24.5, 24, 24, 24, 24, 24, 24, 24]
MM_D2 = [0, 1, 0.5, 3, 2, 6, 4, 8, 7.5, 7.5, 7.5, 7.5, 7.5, 7.5, 7.5, 7.5, 7.5]

NN_MEAN = [6, 6, 7, 9, 13, 17, 20, 21.5, 22.3, 22.6, 22.8, 22.8, 22.8, 22.8, 22.8, 22.8, 22.8]
NN_SD = [2, 2, 2, 2.5, 3, 3, 2.5, 2, 1.5, 1.2, 1, 1, 1, 1, 1, 1, 1]
NN_D1 = [25, 35, 20, 33, 30, 35, 28, 32, 27, 26, 25.5, 25, 25, 25, 25, 25, 25]
NN_D2 = [0.3, 0.5, 0.5, 0.8, 1, 2, 5, 12, 17, 19, 20, 20.5, 21, 21.5, 22, 22, 22]

# ---------------- sanity checks ----------------
for _v in (T_A, R_A, S_A, T_E, R_E, S_E, T_I, R_I, S_I, T_M, R_M, S_M, T_Q, R_Q, S_Q, T_U, R_U, S_U,
           T_Y, R_Y, S_Y, T_CC, R_CC, S_CC, T_GG, R_GG, S_GG, T_KB, R_KB, T_KR, R_KR):
    assert len(_v) == len(WL)

# ---------------- styling ----------------
FONT = "Liberation Sans, Arial, Helvetica, sans-serif"
AX_LINE = "#b8b8b8"
TICK_C = "#444444"
TXT_C = "#1a1a1a"
BLUE = "#1f77b4"
DOT = "1px,1.6px"
TICK_FS = 8.5
LAB_FS = 8.5
TITLE_FS = 14
MINOR_LOG = [0.5, 0.6, 0.7, 0.8, 0.9, 2, 3, 4, 5, 6, 7, 8, 9, 20, 30, 40, 50, 60, 70, 80, 90]

fig = go.Figure()
lay = dict(width=W, height=H, margin=dict(l=0, r=0, t=0, b=0, pad=0), autosize=False,
           paper_bgcolor="white", plot_bgcolor="white", showlegend=False,
           font=dict(family=FONT, size=LAB_FS, color=TXT_C))
annots = []
counter = [0]


def add_axes(xpx, ypx, xcfg, ycfg):
    counter[0] += 1
    n = counter[0]
    sfx = "" if n == 1 else str(n)
    common = dict(showline=True, mirror=True, linecolor=AX_LINE, linewidth=1, ticks="outside",
                  ticklen=3, tickwidth=1, tickcolor=TICK_C, showgrid=False, zeroline=False, tickangle=0,
                  tickfont=dict(size=TICK_FS, color=TXT_C, family=FONT))
    lay["xaxis" + sfx] = dict(common, domain=[xpx[0] / W, xpx[1] / W], anchor="y" + sfx, **xcfg)
    lay["yaxis" + sfx] = dict(common, domain=[1 - ypx[1] / H, 1 - ypx[0] / H], anchor="x" + sfx, **ycfg)
    return "x" + sfx, "y" + sfx


def add_title(xpx, ypx, letter):
    annots.append(dict(x=(xpx[0] + xpx[1]) / 2 / W, y=1 - (ypx[0] - 8) / H, xref="paper", yref="paper",
                       text="<b>%s</b>" % letter, showarrow=False, xanchor="center", yanchor="bottom",
                       font=dict(size=TITLE_FS, color="#111111", family=FONT)))


def resp_axes(xpx, ypx):
    xcfg = dict(range=[-0.66, 0.66], tickvals=[-0.5, 0, 0.5], ticktext=["\u22120.5", "0.0", "0.5"],
                title=dict(text="Wavelength", font=dict(size=LAB_FS, color=TXT_C), standoff=0))
    ycfg = dict(range=[-27, -2.5], tickvals=[-25, -20, -15, -10, -5],
                ticktext=["\u221225", "\u221220", "\u221215", "\u221210", "\u22125"],
                title=dict(text="Power response (dB)", font=dict(size=LAB_FS, color=TXT_C), standoff=4))
    return add_axes(xpx, ypx, xcfg, ycfg)


def resp_panel(xpx, ypx, letter, target, resp, spread):
    xr, yr = resp_axes(xpx, ypx)
    lo = [r - s for r, s in zip(resp, spread)]
    hi = [r + s for r, s in zip(resp, spread)]
    fig.add_trace(go.Scatter(x=WL + WL[::-1], y=hi + lo[::-1], fill="toself", mode="lines",
                             line=dict(width=0), fillcolor="rgba(255,120,120,0.22)", xaxis=xr, yaxis=yr,
                             hoverinfo="skip"))
    fig.add_trace(go.Scatter(x=WL, y=resp, mode="lines", line=dict(color=BLUE, width=1.3), xaxis=xr, yaxis=yr))
    fig.add_trace(go.Scatter(x=WL, y=target, mode="markers",
                             marker=dict(symbol="square", size=5.5, color="black", line=dict(width=0)),
                             xaxis=xr, yaxis=yr))
    add_title(xpx, ypx, letter)


def train_panel(xpx, ypx, letter, kind, mean, sd, d1, d2, d3=None, xtitle=False):
    if kind == "cf":
        ycfg = dict(type="log", range=[-0.3, 2.0], tickvals=[1, 10, 100],
                    ticktext=["10<sup>0</sup>", "10<sup>1</sup>", "10<sup>2</sup>"],
                    minor=dict(ticks="outside", ticklen=2, tickcolor=TICK_C, tickvals=MINOR_LOG, showgrid=False),
                    title=dict(text="CF", font=dict(size=LAB_FS, color=TXT_C), standoff=4))
        lo = [m * 10 ** (-s) for m, s in zip(mean, sd)]
        hi = [m * 10 ** s for m, s in zip(mean, sd)]
        band = "rgba(150,150,150,0.30)"
    else:
        if kind == "f1s":
            ycfg = dict(range=[2.0, 15.0], tickvals=[2.5, 5, 7.5, 10, 12.5, 15],
                        ticktext=["2.5", "5.0", "7.5", "10.0", "12.5", "15.0"])
            ttl = "Output feature 1 (dB)"
        else:
            ycfg = dict(range=[0, 35], tickvals=[0, 10, 20, 30])
            ttl = "Output feature 1 (dB)" if kind == "f1" else "Output feature 2 (dB)"
        ycfg["title"] = dict(text=ttl, font=dict(size=LAB_FS, color=TXT_C), standoff=4)
        lo = [m - s for m, s in zip(mean, sd)]
        hi = [m + s for m, s in zip(mean, sd)]
        band = "rgba(120,120,255,0.25)"
    xcfg = dict(range=[-280, 5880], tickvals=[0, 4000], ticktext=["0", "4000"])
    if xtitle:
        xcfg["title"] = dict(text="Number of operations", font=dict(size=LAB_FS, color=TXT_C), standoff=0)
    xr, yr = add_axes(xpx, ypx, xcfg, ycfg)
    fig.add_trace(go.Scatter(x=OPS + OPS[::-1], y=hi + lo[::-1], fill="toself", mode="lines",
                             line=dict(width=0), fillcolor=band, xaxis=xr, yaxis=yr, hoverinfo="skip"))
    if d3 is not None:
        fig.add_trace(go.Scatter(x=OPS, y=d3, mode="lines", line=dict(color="#8c8c8c", width=1, dash=DOT),
                                 xaxis=xr, yaxis=yr))
    fig.add_trace(go.Scatter(x=OPS, y=d2, mode="lines", line=dict(color="#222222", width=1, dash=DOT),
                             xaxis=xr, yaxis=yr))
    fig.add_trace(go.Scatter(x=OPS, y=d1, mode="lines", line=dict(color="#222222", width=1, dash=DOT),
                             xaxis=xr, yaxis=yr))
    fig.add_trace(go.Scatter(x=OPS, y=mean, mode="lines", line=dict(color=BLUE, width=1.4), xaxis=xr, yaxis=yr))
    add_title(xpx, ypx, letter)


ROWS = [(21, 125), (187, 289), (352, 455), (518, 620), (684, 787)]

# row 1
r = ROWS[0]
resp_panel((33, 123), r, "a", T_A, R_A, S_A)
train_panel((166, 189), r, "b", "cf", B_MEAN, B_SD, B_D1, B_D2, B_D3)
train_panel((233, 257), r, "c", "f1", C_MEAN, C_SD, C_D1, C_D2, C_D3, xtitle=True)
train_panel((296, 318), r, "d", "f2", D_MEAN, D_SD, D_D1, D_D2, D_D3)
resp_panel((380, 465), r, "e", T_E, R_E, S_E)
train_panel((518, 539), r, "f", "cf", F_MEAN, F_SD, F_D1, F_D2, F_D3)
train_panel((580, 602), r, "g", "f1s", G_MEAN, G_SD, G_D1, G_D2, G_D3, xtitle=True)
train_panel((643, 665), r, "h", "f2", H_MEAN, H_SD, H_D1, H_D2, H_D3)

# row 2
r = ROWS[1]
resp_panel((32, 117), r, "i", T_I, R_I, S_I)
train_panel((166, 187), r, "j", "cf", J_MEAN, J_SD, J_D1, J_D2)
train_panel((234, 256), r, "k", "f1s", K_MEAN, K_SD, K_D1, K_D2, K_D3, xtitle=True)
train_panel((296, 317), r, "l", "f2", L_MEAN, L_SD, L_D1, L_D2)
resp_panel((382, 464), r, "m", T_M, R_M, S_M)
train_panel((517, 538), r, "n", "cf", N_MEAN, N_SD, N_D1, N_D2)
train_panel((585, 605), r, "o", "f1s", O_MEAN, O_SD, O_D1, O_D2, xtitle=True)
train_panel((648, 670), r, "p", "f2", P_MEAN, P_SD, P_D1, P_D2)

# row 3
r = ROWS[2]
resp_panel((32, 117), r, "q", T_Q, R_Q, S_Q)
train_panel((166, 188), r, "r", "cf", R_MEAN, R_SD, R_D1, R_D2)
train_panel((234, 255), r, "s", "f1s", S_MEAN, S_SD, S_D1, S_D2, xtitle=True)
train_panel((296, 316), r, "t", "f2", T_MEAN, T_SD, T_D1, T_D2)
resp_panel((382, 465), r, "u", T_U, R_U, S_U)
train_panel((517, 538), r, "v", "cf", V_MEAN, V_SD, V_D1, V_D2)
train_panel((584, 605), r, "w", "f1s", W_MEAN, W_SD, W_D1, W_D2, xtitle=True)
train_panel((647, 669), r, "x", "f2", X_MEAN, X_SD, X_D1, X_D2)

# row 4
r = ROWS[3]
resp_panel((33, 118), r, "y", T_Y, R_Y, S_Y)
train_panel((166, 187), r, "z", "cf", Z_MEAN, Z_SD, Z_D1, Z_D2, Z_D3)
train_panel((234, 255), r, "aa", "f1s", AA_MEAN, AA_SD, AA_D1, AA_D2, xtitle=True)
train_panel((296, 316), r, "bb", "f2", BB_MEAN, BB_SD, BB_D1, BB_D2)
resp_panel((382, 465), r, "cc", T_CC, R_CC, S_CC)
train_panel((517, 538), r, "dd", "cf", DD_MEAN, DD_SD, DD_D1, DD_D2)
train_panel((585, 606), r, "ee", "f1s", EE_MEAN, EE_SD, EE_D1, EE_D2, xtitle=True)
train_panel((648, 669), r, "ff", "f2", FF_MEAN, FF_SD, FF_D1, FF_D2)

# row 5
r = ROWS[4]
resp_panel((33, 118), r, "gg", T_GG, R_GG, S_GG)
train_panel((166, 188), r, "hh", "cf", HH_MEAN, HH_SD, HH_D1, HH_D2)
train_panel((234, 256), r, "ii", "f1s", II_MEAN, II_SD, II_D1, II_D2, xtitle=True)
train_panel((295, 316), r, "jj", "f2", JJ_MEAN, JJ_SD, JJ_D1, JJ_D2)

# kk: dual target panel
kx = (380, 467)
xr, yr = resp_axes(kx, r)
for resp, spread, fc in ((R_KB, S_A, "rgba(31,119,180,0.18)"), (R_KR, S_CC, "rgba(255,127,14,0.18)")):
    lo = [a - s for a, s in zip(resp, spread)]
    hi = [a + s for a, s in zip(resp, spread)]
    fig.add_trace(go.Scatter(x=WL + WL[::-1], y=hi + lo[::-1], fill="toself", mode="lines", line=dict(width=0),
                             fillcolor=fc, xaxis=xr, yaxis=yr, hoverinfo="skip"))
fig.add_trace(go.Scatter(x=WL, y=R_KB, mode="lines", line=dict(color=BLUE, width=1.3), xaxis=xr, yaxis=yr))
fig.add_trace(go.Scatter(x=WL, y=R_KR, mode="lines", line=dict(color="#ff7f0e", width=1.3), xaxis=xr, yaxis=yr))
fig.add_trace(go.Scatter(x=WL, y=T_KB, mode="markers", marker=dict(symbol="square", size=5.5, color="#0000ff", line=dict(width=0)),
                         xaxis=xr, yaxis=yr))
fig.add_trace(go.Scatter(x=WL, y=T_KR, mode="markers", marker=dict(symbol="square", size=5.5, color="#ff0000", line=dict(width=0)),
                         xaxis=xr, yaxis=yr))
add_title(kx, r, "kk")

train_panel((516, 541), r, "ll", "cf", LL_MEAN, LL_SD, LL_D1, LL_D2)
train_panel((584, 608), r, "mm", "f1", MM_MEAN, MM_SD, MM_D1, MM_D2, xtitle=True)
train_panel((648, 672), r, "nn", "f2", NN_MEAN, NN_SD, NN_D1, NN_D2)

lay["annotations"] = annots
fig.update_layout(**lay)
fig.write_html("out.html", config={"displayModeBar": False, "staticPlot": True},
               post_script="document.body.style.margin='0';document.body.style.padding='0';document.body.style.overflow='hidden';")
